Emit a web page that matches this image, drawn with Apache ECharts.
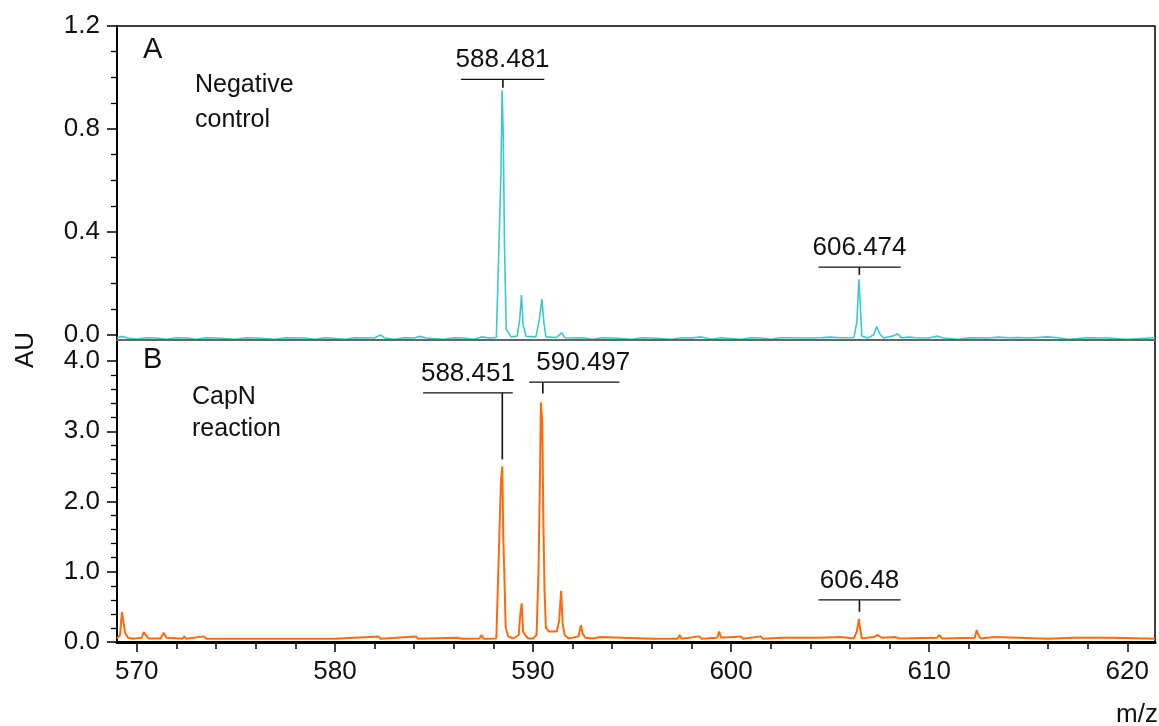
<!DOCTYPE html>
<html>
<head>
<meta charset="utf-8">
<script src="https://cdn.jsdelivr.net/npm/echarts@6/dist/echarts.min.js"></script>
<style>
  html, body { margin: 0; padding: 0; background: #fff; }
  #chart { width: 1159px; height: 726px; }
</style>
</head>
<body>
<div id="chart"></div>
<script>
// panel A - negative control (m/z, AU)
var mzA = [569.0, 569.3, 569.5, 570.0, 570.5, 571.0, 571.5, 572.0, 572.5, 573.0, 573.5, 574.0, 575.0, 575.5, 576.0, 577.0, 577.5, 578.5, 579.0, 579.5,
  580.5, 581.0, 582.0, 582.3, 582.5, 583.0, 583.5, 584.0, 584.3, 584.6, 585.5, 586.0, 586.5, 587.0, 587.4, 587.8, 588.15,
  588.3, 588.38, 588.44, 588.5, 588.56, 588.65, 588.9, 589.2, 589.33, 589.42, 589.5, 589.65, 590.15, 590.32, 590.45, 590.55, 590.65,
  591.2, 591.45, 591.6, 592.0, 592.5, 593.0, 593.5, 594.0, 595.0, 595.5, 596.0, 597.0, 597.5, 598.0, 598.5, 599.0, 599.5,
  600.5, 601.0, 601.5, 602.0, 602.5, 603.0, 604.0, 604.5, 605.0, 605.5, 606.2, 606.35, 606.45, 606.52, 606.6, 606.9,
  607.2, 607.35, 607.5, 607.7, 608.2, 608.4, 608.6, 609.0, 609.3, 610.0, 610.4, 610.7, 611.5, 612.0, 613.0, 613.5, 614.0,
  614.5, 615.0, 616.0, 616.5, 617.0, 618.0, 619.0, 620.0, 621.4];
var auA = [-0.011, -0.006, -0.012, -0.016, -0.011, -0.012, -0.017, -0.011, -0.012, -0.017, -0.011, -0.012, -0.017, -0.011, -0.012, -0.017, -0.011, -0.012, -0.017, -0.011,
  -0.017, -0.011, -0.012, 0.0, -0.012, -0.017, -0.011, -0.012, -0.006, -0.012, -0.017, -0.011, -0.012, -0.017, -0.008, -0.012, -0.010,
  0.40, 0.62, 0.95, 0.77, 0.35, 0.02, -0.008, -0.005, 0.06, 0.155, 0.04, -0.006, -0.008, 0.06, 0.139, 0.05, -0.008,
  -0.010, 0.009, -0.011, -0.012, -0.011, -0.017, -0.011, -0.012, -0.017, -0.011, -0.012, -0.017, -0.011, -0.012, -0.008, -0.017, -0.011,
  -0.017, -0.011, -0.012, -0.017, -0.011, -0.011, -0.012, -0.011, -0.009, -0.011, -0.010, 0.05, 0.216, 0.12, -0.005, -0.012,
  0.0, 0.032, 0.005, -0.012, -0.004, 0.004, -0.011, -0.009, -0.011, -0.012, -0.005, -0.012, -0.017, -0.011, -0.012, -0.009, -0.011,
  -0.010, -0.012, -0.008, -0.011, -0.017, -0.011, -0.012, -0.017, -0.011];

// panel B - CapN reaction (m/z, AU)
var mzB = [569.0, 569.15, 569.25, 569.33, 569.4, 569.55, 569.8, 570.25, 570.35, 570.45, 570.6, 571.2, 571.35, 571.5, 572.3, 572.4, 572.5,
  573.4, 573.5, 576.0, 580.0, 582.2, 582.3, 584.1, 584.2, 586.2, 586.3, 586.4, 587.3, 587.4, 587.5, 588.15,
  588.3, 588.38, 588.45, 588.5, 588.56, 588.62, 588.75, 589.0, 589.28, 589.36, 589.43, 589.5, 589.6, 589.75, 590.0,
  590.18, 590.28, 590.35, 590.4, 590.47, 590.52, 590.58, 590.65, 590.8, 591.2, 591.32, 591.42, 591.5, 591.6, 591.8,
  592.3, 592.42, 592.5, 592.65, 593.0, 593.4, 593.5, 596.0, 597.3, 597.4, 597.5, 598.4, 598.5, 599.3, 599.4, 599.5,
  600.5, 600.6, 601.5, 601.6, 602.5, 603.5, 604.5, 605.5, 606.2, 606.35, 606.45, 606.52, 606.6, 607.2, 607.4, 607.6,
  608.3, 608.5, 610.4, 610.5, 610.65, 612.3, 612.4, 612.5, 612.6, 613.3, 613.4, 616.0, 617.3, 619.3, 621.4];
var auB = [0.05, 0.10, 0.43, 0.42, 0.14, 0.06, 0.045, 0.06, 0.14, 0.10, 0.05, 0.05, 0.13, 0.06, 0.045, 0.08, 0.045,
  0.08, 0.045, 0.045, 0.045, 0.08, 0.045, 0.08, 0.045, 0.06, 0.08, 0.045, 0.05, 0.10, 0.045, 0.05,
  1.5, 2.28, 2.50, 1.49, 0.9, 0.21, 0.08, 0.05, 0.10, 0.40, 0.55, 0.15, 0.10, 0.05, 0.05,
  0.10, 1.05, 2.3, 3.41, 3.11, 1.8, 0.76, 0.2, 0.15, 0.15, 0.3, 0.73, 0.25, 0.10, 0.05,
  0.08, 0.24, 0.12, 0.06, 0.05, 0.07, 0.045, 0.045, 0.045, 0.10, 0.045, 0.08, 0.045, 0.06, 0.15, 0.06,
  0.08, 0.045, 0.08, 0.045, 0.06, 0.06, 0.06, 0.07, 0.05, 0.15, 0.33, 0.18, 0.05, 0.07, 0.10, 0.06,
  0.07, 0.05, 0.06, 0.10, 0.05, 0.06, 0.17, 0.09, 0.05, 0.07, 0.045, 0.045, 0.06, 0.06, 0.045];

// peak labels: [m/z, bracket level, tick end, bracket from, bracket to]
var peaksA = [[588.481, 0.993, 0.96, 586.36, 590.57], [606.474, 0.263, 0.233, 604.41, 608.56]];
var peaksB = [[588.451, 3.547, 2.60, 584.45, 588.98], [590.497, 3.70, 3.54, 589.81, 594.36], [606.48, 0.60, 0.43, 604.41, 608.56]];

var xTicks = [570, 580, 590, 600, 610, 620];
var xMinor = [572, 574, 576, 578, 582, 584, 586, 588, 592, 594, 596, 598, 602, 604, 606, 608, 612, 614, 616, 618];
var yTicksA = [0, 0.4, 0.8, 1.2];
var yMinorA = [0.1, 0.2, 0.3, 0.5, 0.6, 0.7, 0.9, 1.0, 1.1];
var yTicksB = [0, 1, 2, 3, 4];
var yMinorB = [0.2, 0.4, 0.6, 0.8, 1.2, 1.4, 1.6, 1.8, 2.2, 2.4, 2.6, 2.8, 3.2, 3.4, 3.6, 3.8];

var FONT = "'Liberation Sans', Arial, sans-serif";

function pairs(xs, ys) {
  var out = [];
  for (var i = 0; i < xs.length; i++) out.push([xs[i], ys[i]]);
  return out;
}

function peakMark(params, api) {
  var mz = api.value(0);
  var lvl = api.value(1);
  var end = api.value(2);
  var l = api.coord([api.value(3), lvl]);
  var r = api.coord([api.value(4), lvl]);
  var top = api.coord([mz, lvl]);
  var bot = api.coord([mz, end]);
  var txtX = (l[0] + r[0]) / 2;
  if (mz === 590.497) txtX += 9;
  return {
    type: 'group',
    children: [
      { type: 'line', shape: { x1: l[0], y1: l[1], x2: r[0], y2: r[1] }, style: { stroke: '#111', lineWidth: 1.3 } },
      { type: 'line', shape: { x1: top[0], y1: top[1], x2: bot[0], y2: bot[1] }, style: { stroke: '#111', lineWidth: 1.6 } },
      { type: 'text', style: { text: String(mz), x: txtX, y: l[1] - 19, align: 'center', verticalAlign: 'middle', font: '26px ' + FONT, fill: '#111' } }
    ]
  };
}

function yAxisMain(grid, min, max, ticks) {
  return {
    type: 'value', gridIndex: grid, min: min, max: max, position: 'left',
    axisLine: { show: true, onZero: false, lineStyle: { color: '#000', width: 2 } },
    axisTick: { show: true, customValues: ticks, length: 10, lineStyle: { color: '#000', width: 1.5 } },
    axisLabel: { customValues: ticks, margin: 17, fontSize: 26, fontFamily: FONT, color: '#111',
      formatter: function (v) { return v.toFixed(1); } },
    splitLine: { show: false }
  };
}
function yAxisMinor(grid, min, max, ticks) {
  return {
    type: 'value', gridIndex: grid, min: min, max: max, position: 'left', offset: 0,
    axisLine: { show: false, onZero: false },
    axisTick: { show: true, customValues: ticks, length: 6, lineStyle: { color: '#000', width: 1.3 } },
    axisLabel: { show: false }, splitLine: { show: false }
  };
}

var chart = echarts.init(document.getElementById('chart'));
chart.setOption({
  animation: false,
  backgroundColor: '#fff',
  grid: [
    { left: 117, right: 4, top: 26, height: 314, show: true, borderColor: '#000', borderWidth: 1.5 },
    { left: 117, right: 4, top: 340, height: 302, show: true, borderColor: '#000', borderWidth: 1.5 }
  ],
  xAxis: [
    { type: 'value', gridIndex: 0, min: 569, max: 621.4, position: 'bottom', z: 5,
      axisLine: { show: true, onZero: false, lineStyle: { color: '#666', width: 1.8 } },
      axisTick: { show: false }, axisLabel: { show: false }, splitLine: { show: false } },
    { type: 'value', gridIndex: 1, min: 569, max: 621.4, position: 'bottom',
      axisLine: { show: true, onZero: false, lineStyle: { color: '#000', width: 3 } },
      axisTick: { show: true, customValues: xTicks, length: 10, lineStyle: { color: '#000', width: 1.5 } },
      axisLabel: { customValues: xTicks, margin: 17, fontSize: 26, fontFamily: FONT, color: '#111' },
      splitLine: { show: false } },
    { type: 'value', gridIndex: 1, min: 569, max: 621.4, position: 'bottom', offset: 0,
      axisLine: { show: false, onZero: false },
      axisTick: { show: true, customValues: xMinor, length: 7, lineStyle: { color: '#000', width: 1.5 } },
      axisLabel: { show: false }, splitLine: { show: false } }
  ],
  yAxis: [
    yAxisMain(0, -0.02, 1.2, yTicksA),
    yAxisMinor(0, -0.02, 1.2, yMinorA),
    yAxisMain(1, 0, 4.3, yTicksB),
    yAxisMinor(1, 0, 4.3, yMinorB)
  ],
  series: [
    { type: 'line', name: 'Negative control', xAxisIndex: 0, yAxisIndex: 0, data: pairs(mzA, auA),
      showSymbol: false, lineStyle: { color: '#3cc9c9', width: 1.6 }, z: 3 },
    { type: 'line', name: 'CapN reaction', xAxisIndex: 1, yAxisIndex: 2, data: pairs(mzB, auB),
      showSymbol: false, lineStyle: { color: '#ff6a0d', width: 2 }, z: 3 },
    { type: 'custom', xAxisIndex: 0, yAxisIndex: 0, data: peaksA, renderItem: peakMark, silent: true, clip: false, z: 4 },
    { type: 'custom', xAxisIndex: 1, yAxisIndex: 2, data: peaksB, renderItem: peakMark, silent: true, clip: false, z: 4 }
  ],
  graphic: [
    { type: 'text', left: 143, top: 35, style: { text: 'A', font: '29px ' + FONT, fill: '#111' } },
    { type: 'text', left: 195, top: 68, style: { text: 'Negative\ncontrol', font: '25px ' + FONT, fill: '#111', lineHeight: 35 } },
    { type: 'text', left: 143, top: 345, style: { text: 'B', font: '29px ' + FONT, fill: '#111' } },
    { type: 'text', left: 192, top: 381, style: { text: 'CapN\nreaction', font: '25px ' + FONT, fill: '#111', lineHeight: 32 } },
    { type: 'text', x: 26, y: 350, rotation: Math.PI / 2,
      style: { text: 'AU', font: '26px ' + FONT, fill: '#111', align: 'center', verticalAlign: 'middle' } },
    { type: 'text', x: 1137, y: 715, style: { text: 'm/z', font: '26px ' + FONT, fill: '#111', align: 'center', verticalAlign: 'middle' } }
  ]
});
</script>
</body>
</html>
